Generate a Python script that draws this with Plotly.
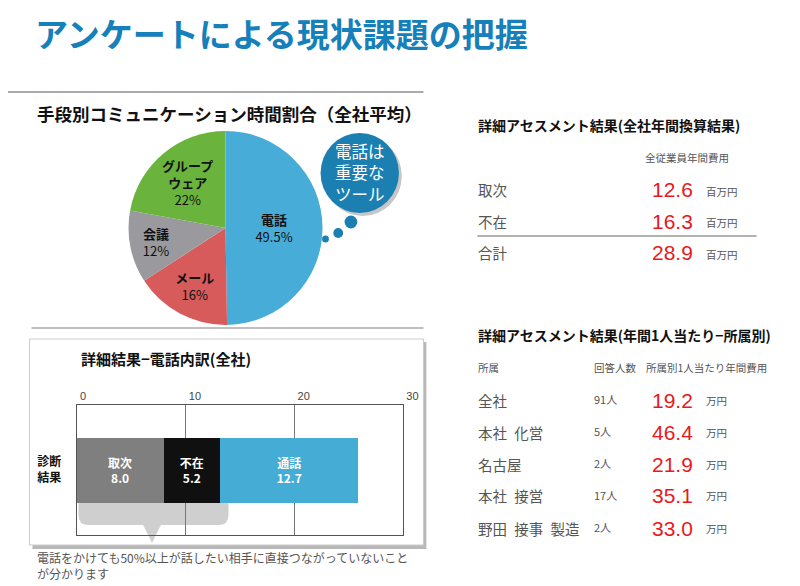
import plotly.graph_objects as go

# the page has an 8px body margin, so the figure is 8px smaller and coordinates are shifted
OFF = 8
W, H = 800 - OFF, 586 - OFF
JP = "Noto Sans CJK JP"
LAT = "Liberation Sans"


def X(px):
    return (px - OFF) / W


def Y(py):
    return 1 - (py - OFF) / H


# pie data
pie_labels = ["電話", "メール", "会議", "グループ<br>ウェア"]
pie_values = [49.5, 16, 12, 22]
pie_colors = ["#47acd8", "#d85b5b", "#9a9a9e", "#6ab43e"]

# stacked bar data
bar_names = ["取次", "不在", "通話"]
bar_values = [8.0, 5.2, 12.7]
bar_colors = ["#7f7f7f", "#101010", "#45acd6"]
bar_category = "<b>診断<br>結果</b>"
bar_ticks = [0, 10, 20, 30]

# table 1
t1_rows = ["取次", "不在", "合計"]
t1_values = [12.6, 16.3, 28.9]
t1_unit = "百万円"

# table 2
t2_rows = ["全社", "本社\u2002化営", "名古屋", "本社\u2002接営", "野田\u2002接事\u2002製造"]
t2_counts = [91, 5, 2, 17, 2]
t2_values = [19.2, 46.4, 21.9, 35.1, 33.0]
t2_unit = "万円"

fig = go.Figure()

fig.add_trace(go.Pie(
    labels=pie_labels, values=pie_values, text=pie_labels,
    texttemplate="<b>%{text}</b><br>%{value}%", textinfo="text",
    textposition="inside", insidetextorientation="horizontal",
    textfont=dict(family=JP, size=13, color="#111"),
    marker=dict(colors=pie_colors, line=dict(width=0)),
    sort=False, direction="clockwise", rotation=0,
    domain=dict(x=[X(131), X(329)], y=[Y(327), Y(129)]),
    showlegend=False, hoverinfo="label+value",
))

for name, val, col in zip(bar_names, bar_values, bar_colors):
    fig.add_trace(go.Bar(
        x=[val], y=[bar_category], orientation="h", name=name,
        marker=dict(color=col, line=dict(width=0)),
        text=[f"<b>{name}</b><br><b>{val:.1f}</b>"], textposition="inside",
        insidetextanchor="middle", textangle=0,
        textfont=dict(family=JP, size=12, color="white"),
        showlegend=False,
    ))

fig.update_layout(
    width=W, height=H, autosize=False,
    margin=dict(l=0, r=0, t=0, b=0),
    paper_bgcolor="white", plot_bgcolor="rgba(0,0,0,0)",
    barmode="stack", bargap=0.5,
    xaxis=dict(domain=[X(78), X(411)], range=[0, 30], side="top",
               tickvals=bar_ticks, ticklabelposition="outside right",
               ticklabelshift=3,
               tickfont=dict(family=LAT, size=11, color="#444"),
               showgrid=True, gridcolor="#777", gridwidth=1, zeroline=False,
               showline=True, mirror=True, linecolor="#555", linewidth=1,
               ticks="", fixedrange=True),
    yaxis=dict(domain=[Y(535), Y(405)], showgrid=False, zeroline=False,
               showline=True, mirror=True, linecolor="#555", linewidth=1,
               tickfont=dict(family=JP, size=12, color="#111"),
               ticks="", ticklabelstandoff=12, fixedrange=True),
    font=dict(family=JP),
)

shapes = []
# title separators
shapes.append(dict(type="line", xref="paper", yref="paper", x0=0, x1=X(432),
                   y0=Y(92), y1=Y(92), line=dict(color="#aaa", width=2)))
shapes.append(dict(type="line", xref="paper", yref="paper", x0=X(32), x1=X(432),
                   y0=Y(328), y1=Y(328), line=dict(color="#aaa", width=1.5)))
# bar chart card with shadow
shapes.append(dict(type="rect", xref="paper", yref="paper", layer="below",
                   x0=X(33), x1=X(435), y0=Y(549), y1=Y(342),
                   fillcolor="#b8b8b8", line=dict(width=0)))
shapes.append(dict(type="rect", xref="paper", yref="paper", layer="below",
                   x0=X(30), x1=X(432), y0=Y(545), y1=Y(339),
                   fillcolor="white", line=dict(color="#ccc", width=1)))
# brace under 取次 + 不在
path = "M {:.4f},{:.4f}".format(X(80), Y(502))
path += " L {:.4f},{:.4f}".format(X(80), Y(515))
path += " Q {:.4f},{:.4f} {:.4f},{:.4f}".format(X(80), Y(525), X(90), Y(525))
path += " L {:.4f},{:.4f}".format(X(146), Y(525))
path += " L {:.4f},{:.4f}".format(X(155), Y(543))
path += " L {:.4f},{:.4f}".format(X(164), Y(525))
path += " L {:.4f},{:.4f}".format(X(223), Y(525))
path += " Q {:.4f},{:.4f} {:.4f},{:.4f}".format(X(233), Y(525), X(233), Y(515))
path += " L {:.4f},{:.4f} Z".format(X(233), Y(502))
shapes.append(dict(type="path", xref="paper", yref="paper", layer="below",
                   path=path, fillcolor="#cfcfcf", line=dict(width=0)))


def circle(cx, cy, r, color):
    return dict(type="circle", xref="paper", yref="paper",
                x0=X(cx - r), x1=X(cx + r), y0=Y(cy + r), y1=Y(cy - r),
                fillcolor=color, line=dict(width=0))


# speech bubble
shapes.append(circle(370, 176, 40, "rgba(0,0,0,0.22)"))
shapes.append(circle(367, 173, 40, "#1b7fb1"))
shapes.append(circle(358, 222, 6.5, "#1b7fb1"))
shapes.append(circle(345, 233, 5, "#1b7fb1"))
shapes.append(circle(332, 239, 3.5, "#1b7fb1"))
# table 1 total line
shapes.append(dict(type="line", xref="paper", yref="paper", x0=X(487), x1=X(772),
                   y0=Y(236), y1=Y(236), line=dict(color="#999", width=1.5)))

ann = []


def txt(x, y, s, size, color="#555", xanchor="left", family=JP, bold=False, align="left"):
    if bold:
        s = f"<b>{s}</b>"
    ann.append(dict(x=X(x), y=Y(y), xref="paper", yref="paper", text=s,
                    showarrow=False, xanchor=xanchor, yanchor="middle", align=align,
                    font=dict(family=family, size=size, color=color)))


txt(34, 33, "アンケートによる現状課題の把握", 33, "#1580b9", bold=True)
txt(36, 113, "手段別コミュニケーション時間割合（全社平均）", 17.5, "#111", bold=True)
txt(367, 172, "電話は<br>重要な<br>ツール", 16.5, "white", xanchor="center", align="center")
txt(80, 358, "詳細結果−電話内訳(全社)", 15, "#111", bold=True)
txt(36, 565, "電話をかけても50%以上が話したい相手に直接つながっていないこと<br>が分かります",
    12, "#555")

# table 1
txt(486, 125, "詳細アセスメント結果(全社年間換算結果)", 14, "#111", bold=True)
txt(746, 157, "全従業員年間費用", 10.5, "#555", xanchor="right")
for i, (lab, v) in enumerate(zip(t1_rows, t1_values)):
    yy = 190 + i * 31.5
    txt(486, yy, lab, 14.5)
    txt(709, yy, f"{v:.1f}", 21, "#e8191c", xanchor="right", family=LAT)
    txt(718, yy + 1, t1_unit, 10.5)

# table 2
txt(486, 335, "詳細アセスメント結果(年間1人当たり−所属別)", 14, "#111", bold=True)
txt(486, 367, "所属", 10.5)
txt(604, 367, "回答人数", 10.5)
txt(657, 367, "所属別1人当たり年間費用", 10.5)
for i, (lab, n, v) in enumerate(zip(t2_rows, t2_counts, t2_values)):
    yy = 400 + i * 32
    txt(486, yy, lab, 14.5)
    txt(604, yy - 1, f"{n}人", 11)
    txt(709, yy, f"{v:.1f}", 21, "#e8191c", xanchor="right", family=LAT)
    txt(718, yy, t2_unit, 10.5)

fig.update_layout(shapes=shapes, annotations=ann)
fig.write_html("out.html")
